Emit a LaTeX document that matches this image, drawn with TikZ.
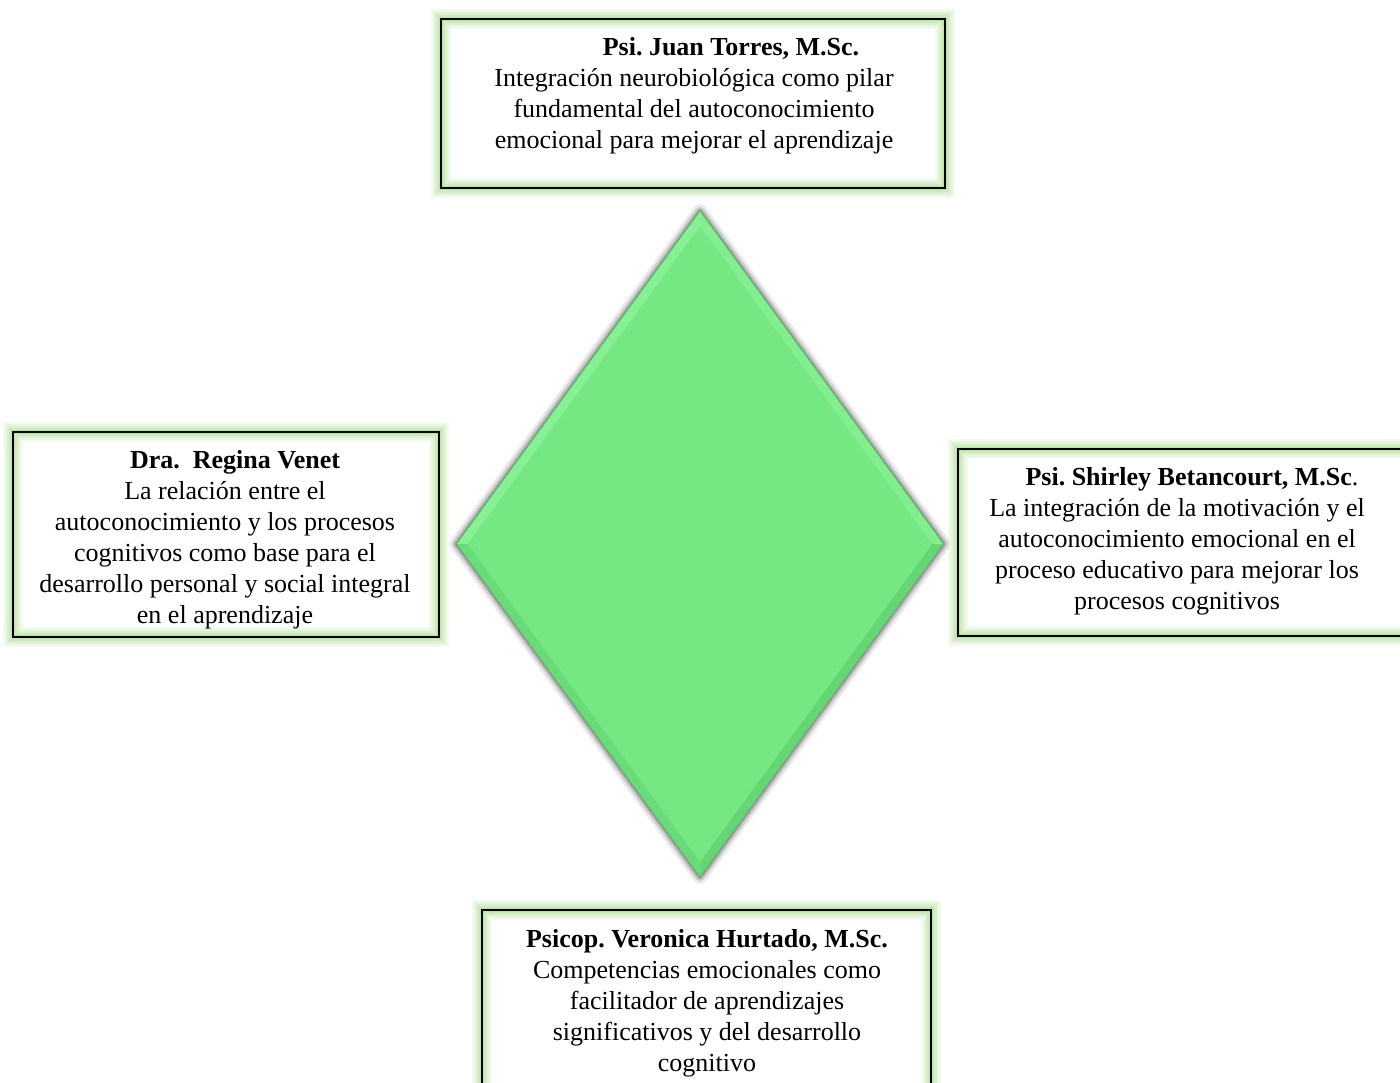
\documentclass[tikz,border=0pt]{standalone}
\usepackage{fontspec}
\setmainfont{Liberation Serif}
\frenchspacing
\definecolor{gemfill}{RGB}{117,232,132}
\definecolor{gemlight}{RGB}{136,240,148}
\definecolor{gemdark}{RGB}{100,215,116}
\definecolor{gemedge}{RGB}{85,195,100}
\definecolor{halo}{RGB}{140,210,100}
\definecolor{shade}{RGB}{150,140,160}

\tikzset{
  card/.style={rectangle, inner sep=0pt,
    preaction={fill=white},
    preaction={draw=halo, line width=20pt, opacity=0.09},
    preaction={draw=halo, line width=16pt, opacity=0.11},
    preaction={draw=halo, line width=12pt, opacity=0.14},
    preaction={draw=halo, line width=8pt, opacity=0.18},
    preaction={draw=halo, line width=4pt, opacity=0.22},
    draw=black, line width=1.8pt},
  txt/.style={align=center, font=\fontsize{26}{31}\selectfont, inner sep=0pt},
}

\begin{document}
\begin{tikzpicture}[x=1pt,y=-1pt]
  \clip (0,0) rectangle (1400,1083);
  \fill[white] (0,0) rectangle (1400,1083);

  % central gem: outer and inset corners
  \coordinate (gT) at (700,211);
  \coordinate (gR) at (943.5,544);
  \coordinate (gB) at (700,877);
  \coordinate (gL) at (456.5,544);
  \coordinate (iT) at (700,226);
  \coordinate (iR) at (932.5,544);
  \coordinate (iB) at (700,862);
  \coordinate (iL) at (467.5,544);

  % soft shadow, lifted slightly upwards
  \begin{scope}[yshift=-4pt]
    \foreach \w/\o in {14/0.08,9/0.12,5/0.16,2/0.2}
      \draw[shade, line width=\w pt, opacity=\o, line join=round]
        (gT) -- (gR) -- (gB) -- (gL) -- cycle;
  \end{scope}

  % gem body and bevel
  \fill[gemfill] (gT) -- (gR) -- (gB) -- (gL) -- cycle;
  \fill[gemlight] (gL) -- (gT) -- (iT) -- (iL) -- cycle;
  \fill[gemlight!70!gemfill] (gT) -- (gR) -- (iR) -- (iT) -- cycle;
  \fill[gemdark] (gR) -- (gB) -- (iB) -- (iR) -- cycle;
  \fill[gemdark!70!gemfill] (gB) -- (gL) -- (iL) -- (iB) -- cycle;
  \draw[gemedge, line width=0.7pt, line join=round] (gT) -- (gR) -- (gB) -- (gL) -- cycle;

  % text cards
  \node[card, minimum width=504pt, minimum height=169pt] (torres) at (693,103.5) {};
  \node[txt] (torresT) at (694,96) {\hspace*{74pt}\textbf{Psi. Juan Torres, M.Sc.}\\
    Integración neurobiológica como pilar\\
    fundamental del autoconocimiento\\
    emocional para mejorar el aprendizaje};

  \node[card, minimum width=426pt, minimum height=205pt] (venet) at (226,534.5) {};
  \node[txt] (venetT) at (225,540) {\hspace*{20pt}\textbf{Dra.\ \ Regina Venet}\\
    La relación entre el\\
    autoconocimiento y los procesos\\
    cognitivos como base para el\\
    desarrollo personal y social integral\\
    en el aprendizaje};

  \node[card, minimum width=472pt, minimum height=187pt] (betan) at (1194,542.5) {};
  \node[txt] (betanT) at (1177,541.5) {\hspace*{30pt}\textbf{Psi. Shirley Betancourt, M.Sc}.\\
    La integración de la motivación y el\\
    autoconocimiento emocional en el\\
    proceso educativo para mejorar los\\
    procesos cognitivos};

  \node[card, minimum width=449pt, minimum height=190pt] (hurt) at (706.5,1005) {};
  \node[txt] (hurtT) at (707,1003.5) {\textbf{Psicop. Veronica Hurtado, M.Sc.}\\
    Competencias emocionales como\\
    facilitador de aprendizajes\\
    significativos y del desarrollo\\
    cognitivo};
\end{tikzpicture}
\end{document}
